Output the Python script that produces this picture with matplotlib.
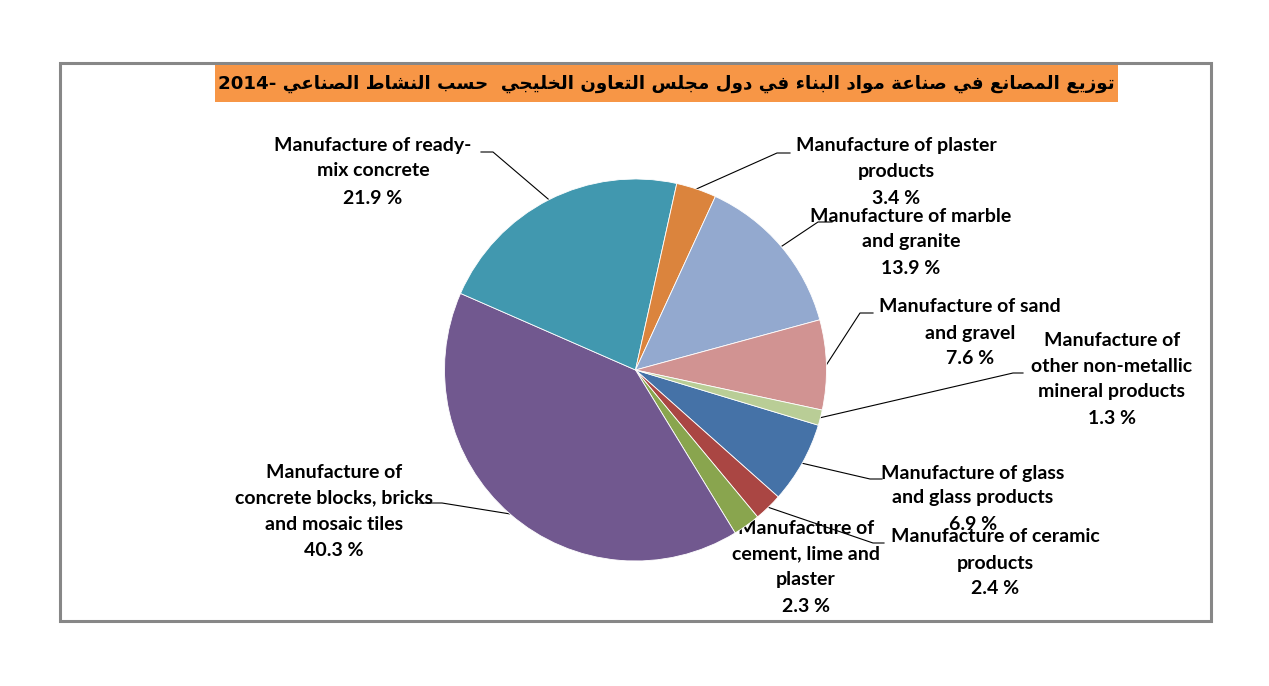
import numpy as np
import matplotlib
matplotlib.use("Agg")
import matplotlib.pyplot as plt
from matplotlib.patches import Rectangle

# ---------------- data ----------------
categories = [
    "Manufacture of glass\nand glass products",
    "Manufacture of ceramic\nproducts",
    "Manufacture of\ncement, lime and\nplaster",
    "Manufacture of\nconcrete blocks, bricks\nand mosaic tiles",
    "Manufacture of ready-\nmix concrete",
    "Manufacture of plaster\nproducts",
    "Manufacture of marble\nand granite",
    "Manufacture of sand\nand gravel",
    "Manufacture of\nother non-metallic\nmineral products",
]
values = [6.9, 2.4, 2.3, 40.3, 21.9, 3.4, 13.9, 7.6, 1.3]
colors = ["#4572A7", "#AA4643", "#89A54E", "#71588F", "#4198AF",
          "#DB843D", "#93A9CF", "#D19392", "#B9CD96"]
title_ar = "توزيع المصانع في صناعة مواد البناء في دول مجلس التعاون الخليجي  حسب النشاط الصناعي"
title_year = "2014"

# ---------------- minimal Arabic shaping (presentation forms) ----------------
FORMS = {
    'ا': ('\uFE8D', '\uFE8E', None, None),
    'ب': ('\uFE8F', '\uFE90', '\uFE91', '\uFE92'),
    'ة': ('\uFE93', '\uFE94', None, None),
    'ت': ('\uFE95', '\uFE96', '\uFE97', '\uFE98'),
    'ج': ('\uFE9D', '\uFE9E', '\uFE9F', '\uFEA0'),
    'ح': ('\uFEA1', '\uFEA2', '\uFEA3', '\uFEA4'),
    'خ': ('\uFEA5', '\uFEA6', '\uFEA7', '\uFEA8'),
    'د': ('\uFEA9', '\uFEAA', None, None),
    'ز': ('\uFEAF', '\uFEB0', None, None),
    'س': ('\uFEB1', '\uFEB2', '\uFEB3', '\uFEB4'),
    'ش': ('\uFEB5', '\uFEB6', '\uFEB7', '\uFEB8'),
    'ص': ('\uFEB9', '\uFEBA', '\uFEBB', '\uFEBC'),
    'ط': ('\uFEC1', '\uFEC2', '\uFEC3', '\uFEC4'),
    'ع': ('\uFEC9', '\uFECA', '\uFECB', '\uFECC'),
    'ف': ('\uFED1', '\uFED2', '\uFED3', '\uFED4'),
    'ل': ('\uFEDD', '\uFEDE', '\uFEDF', '\uFEE0'),
    'م': ('\uFEE1', '\uFEE2', '\uFEE3', '\uFEE4'),
    'ن': ('\uFEE5', '\uFEE6', '\uFEE7', '\uFEE8'),
    'و': ('\uFEED', '\uFEEE', None, None),
    'ي': ('\uFEF1', '\uFEF2', '\uFEF3', '\uFEF4'),
    'ء': ('\uFE80', None, None, None),
}


def shape_arabic(s):
    out = []
    n = len(s)
    i = 0
    while i < n:
        c = s[i]
        if c not in FORMS:
            out.append(c)
            i += 1
            continue
        prev = s[i - 1] if i > 0 else None
        jp = prev in FORMS and FORMS[prev][2] is not None
        if c == 'ل' and i + 1 < n and s[i + 1] == 'ا':
            out.append('\uFEFC' if jp else '\uFEFB')
            i += 2
            continue
        nxt = s[i + 1] if i + 1 < n else None
        iso, fin, ini, med = FORMS[c]
        jn = ini is not None and nxt in FORMS and FORMS[nxt][1] is not None
        if jp and jn:
            g = med
        elif jp:
            g = fin
        elif jn:
            g = ini
        else:
            g = iso
        out.append(g if g else iso)
        i += 1
    return ''.join(reversed(out))


# ---------------- figure ----------------
W, H = 1269, 686
fig = plt.figure(figsize=(W / 100, H / 100), dpi=100)
fig.patch.set_facecolor("white")

ov = fig.add_axes([0, 0, 1, 1])
ov.set_xlim(0, W)
ov.set_ylim(H, 0)
ov.axis("off")

# outer border
ov.add_patch(Rectangle((60, 63), 1151, 558, fill=False, edgecolor="#878787",
                       linewidth=2.2, zorder=1))

# title box
ov.add_patch(Rectangle((215, 65), 903, 37, facecolor="#F79646",
                       edgecolor="none", zorder=2))
title_str = title_year + "- " + shape_arabic(title_ar)
t = ov.text(666, 84, title_str, ha="center", va="center",
            fontsize=20, fontweight="bold", family=["DejaVu Sans"],
            color="black", zorder=3)
fig.canvas.draw()
bb = t.get_window_extent()
t.set_fontsize(20 * 892 / bb.width)

# pie axes
cx, cy, r = 635.5, 370, 191
ap = fig.add_axes([(cx - r) / W, (H - cy - r) / H, 2 * r / W, 2 * r / H])
wedges, _ = ap.pie(values, colors=colors, startangle=-16.8, counterclock=False,
                   radius=1, wedgeprops=dict(edgecolor="white", linewidth=0.6))
ap.set_xlim(-1, 1)
ap.set_ylim(-1, 1)
ap.set_aspect("auto")
ap.axis("off")


def edge_point(w):
    th = np.deg2rad((w.theta1 + w.theta2) / 2)
    disp = ap.transData.transform((np.cos(th), np.sin(th)))
    return ov.transData.inverted().transform(disp)


# label layout: (center x, line y positions, elbow point, horizontal end x)
layout = [
    (973, [473, 498, 524], (870, 479), 882),            # glass
    (995, [537, 563, 589], (873, 543), 884),            # ceramic
    (806, [528, 554, 580, 606], None, None),            # cement
    (334, [472, 498, 524, 551], (442, 503), 420),       # concrete blocks
    (373, [145, 171, 198], (493, 152), 481),            # ready-mix
    (896, [146, 172, 198], (777, 153), 790),            # plaster
    (911, [216, 242, 268], (818, 222), 832),            # marble
    (970, [307, 333, 358], (860, 313), 873),            # sand
    (1112, [341, 366, 392, 418], (1013, 373), 1023),    # other
]

lab_font = dict(family=["Lato", "DejaVu Sans"], fontweight="bold",
                fontsize=14, color="black")

for w, cat, val, (lx, ys, elbow, hx) in zip(wedges, categories, values, layout):
    lines = cat.split("\n") + [f"{val} %"]
    for yy, ln in zip(ys, lines):
        ov.text(lx, yy, ln, ha="center", va="center", zorder=6, **lab_font)
    if elbow is not None:
        p = edge_point(w)
        ov.plot([p[0], elbow[0], hx], [p[1], elbow[1], elbow[1]],
                color="black", linewidth=0.8, zorder=5)

fig.savefig("out.png", dpi=100, facecolor="white")
